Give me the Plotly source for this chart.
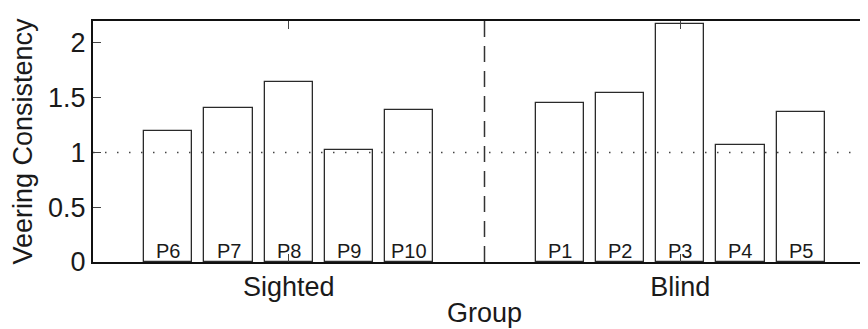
import plotly.graph_objects as go

# ---- data ----
groups = ["Sighted", "Blind"]
sighted_labels = ["P6", "P7", "P8", "P9", "P10"]
sighted_values = [1.20, 1.41, 1.64, 1.02, 1.39]
blind_labels = ["P1", "P2", "P3", "P4", "P5"]
blind_values = [1.45, 1.54, 2.17, 1.07, 1.37]
y_ticks = [0, 0.5, 1, 1.5, 2]
y_tick_labels = ["0", "0.5", "1", "1.5", "2"]
reference_level = 1.0
x_title = "Group"
y_title = "Veering Consistency"

FONT = "Liberation Sans, Arial, Helvetica, sans-serif"
TXT = "#1a1a1a"

# MATLAB-style grouped bar geometry
n = 5
group_width = min(0.8, n / (n + 1.5))
slot = group_width / n
bar_w = 0.8 * slot

def positions(center):
    return [center + (i - (n - 1) / 2) * slot for i in range(n)]

group_centers = [1, 2]
xs_s = positions(group_centers[0])
xs_b = positions(group_centers[1])

fig = go.Figure()
for xs, vals in [(xs_s, sighted_values), (xs_b, blind_values)]:
    fig.add_trace(go.Bar(
        x=xs, y=vals, width=bar_w,
        marker=dict(color="white", line=dict(color="#2a2a2a", width=1.3)),
        showlegend=False, hoverinfo="skip",
    ))

# page body has an 8px default margin: shrink figure to fit the window
BODY = 8
W, H = 868 - BODY, 329 - BODY
L, T, B = 93 - BODY, 21 - BODY, 67
px_per_unit = 391.5
x_right = 0.5 + (W - L) / px_per_unit

# reference dotted line at 1
fig.add_shape(type="line", xref="x", yref="y", x0=0.5, x1=x_right,
              y0=reference_level, y1=reference_level,
              line=dict(color="#444444", width=1.5, dash="1.5px,10.5px"), layer="above")
# dashed group divider
fig.add_shape(type="line", xref="x", yref="y", x0=1.5, x1=1.5, y0=0, y1=2.2,
              line=dict(color="#333333", width=1.5, dash="16px,9px"), layer="above")

# participant labels inside bars
for xs, labs in [(xs_s, sighted_labels), (xs_b, blind_labels)]:
    for x, lab in zip(xs, labs):
        fig.add_annotation(x=x, y=0, xref="x", yref="y", text=lab, showarrow=False,
                           yanchor="middle", yshift=11,
                           font=dict(family=FONT, size=20, color=TXT))

# x-axis title (centred under the full axis, which extends slightly past the window)
fig.add_annotation(x=1.5, y=0, xref="x", yref="paper", text=x_title, showarrow=False,
                   yanchor="top", yshift=-34,
                   font=dict(family=FONT, size=27, color=TXT))

fig.update_layout(
    width=W, height=H,
    margin=dict(l=L, r=0, t=T, b=B, pad=0),
    plot_bgcolor="white", paper_bgcolor="white",
    bargap=0,
    font=dict(family=FONT, size=27, color=TXT),
)
fig.update_xaxes(
    range=[0.5, x_right], tickmode="array", tickvals=group_centers, ticktext=groups,
    showline=True, linecolor="#111111", linewidth=2, mirror="ticks",
    ticks="inside", ticklen=8, tickcolor="#444444", tickwidth=1.3,
    showgrid=False, zeroline=False,
    tickfont=dict(family=FONT, size=27, color=TXT),
)
fig.update_yaxes(
    range=[0, 2.2], tickmode="array", tickvals=y_ticks, ticktext=y_tick_labels,
    showline=True, linecolor="#111111", linewidth=2, mirror=False,
    ticks="inside", ticklen=8, tickcolor="#444444", tickwidth=1.3,
    showgrid=False, zeroline=False,
    tickfont=dict(family=FONT, size=27, color=TXT),
    title=dict(text=y_title, font=dict(family=FONT, size=27, color=TXT), standoff=12),
)

fig.write_html("out.html")
